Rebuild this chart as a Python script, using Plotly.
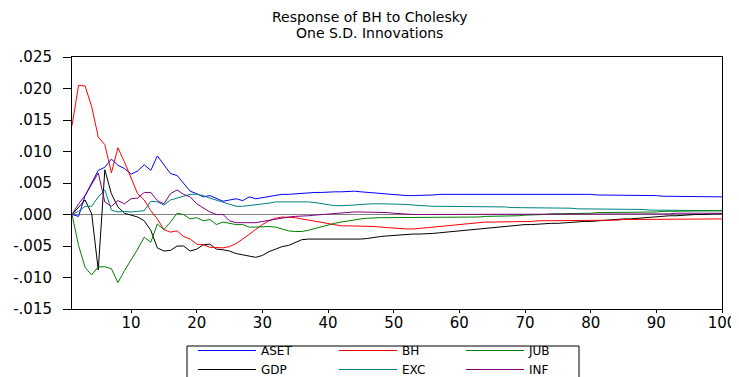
import plotly.graph_objects as go

periods = list(range(1, 101))

aset = [0.0000, -0.0003, 0.0030, 0.0049, 0.0070, 0.0075, 0.0088, 0.0078, 0.0073, 0.0064,
        0.0069, 0.0079, 0.0070, 0.0093, 0.0078, 0.0065, 0.0062, 0.0049, 0.0037, 0.0033,
        0.0028, 0.0030, 0.0026, 0.0021, 0.0023, 0.0025, 0.0022, 0.0028, 0.0025, 0.0027,
        0.0028, 0.0030, 0.0032, 0.0032, 0.0033, 0.0034, 0.0034, 0.0035, 0.0035, 0.0036,
        0.0036, 0.0036, 0.0037, 0.0037, 0.0036, 0.0035, 0.0034, 0.0033, 0.0032, 0.0031,
        0.0031, 0.0030, 0.0030, 0.0030, 0.0031, 0.0031, 0.0032, 0.0032, 0.0032, 0.0033,
        0.0033, 0.0033, 0.0033, 0.0033, 0.0033, 0.0033, 0.0033, 0.0033, 0.0033, 0.0033,
        0.0033, 0.0033, 0.0033, 0.0033, 0.0033, 0.0032, 0.0032, 0.0032, 0.0032, 0.0032,
        0.0031, 0.0031, 0.0031, 0.0031, 0.0031, 0.0030, 0.0030, 0.0030, 0.0030, 0.0030,
        0.0029, 0.0029, 0.0029, 0.0029, 0.0029, 0.0028, 0.0028, 0.0028, 0.0028, 0.0028]

bh = [0.0141, 0.0205, 0.0204, 0.0171, 0.0123, 0.0111, 0.0066, 0.0106, 0.0083, 0.0059,
      0.0033, 0.0023, 0.0006, -0.0007, -0.0024, -0.0028, -0.0026, -0.0035, -0.0039, -0.0047,
      -0.0048, -0.0052, -0.0053, -0.0053, -0.0051, -0.0046, -0.0039, -0.0031, -0.0023, -0.0016,
      -0.0010, -0.0006, -0.0004, -0.0004, -0.0005, -0.0007, -0.0009, -0.0011, -0.0013, -0.0015,
      -0.0017, -0.0018, -0.0018, -0.0018, -0.0018, -0.0018, -0.0019, -0.0020, -0.0021, -0.0022,
      -0.0023, -0.0023, -0.0023, -0.0022, -0.0021, -0.0020, -0.0019, -0.0018, -0.0016, -0.0015,
      -0.0014, -0.0013, -0.0012, -0.0012, -0.0012, -0.0012, -0.0011, -0.0011, -0.0011, -0.0011,
      -0.0011, -0.0010, -0.0010, -0.0010, -0.0010, -0.0010, -0.0010, -0.0009, -0.0009, -0.0009,
      -0.0009, -0.0009, -0.0009, -0.0009, -0.0008, -0.0008, -0.0008, -0.0008, -0.0008, -0.0008,
      -0.0008, -0.0008, -0.0008, -0.0007, -0.0007, -0.0007, -0.0007, -0.0007, -0.0007, -0.0007]

jub = [0.0000, -0.0049, -0.0084, -0.0096, -0.0083, -0.0083, -0.0086, -0.0108, -0.0089, -0.0073,
       -0.0055, -0.0036, -0.0044, -0.0015, -0.0024, -0.0012, 0.0002, 0.0000, -0.0007, -0.0005,
       -0.0010, -0.0008, -0.0016, -0.0012, -0.0014, -0.0016, -0.0016, -0.0020, -0.0020, -0.0019,
       -0.0019, -0.0020, -0.0023, -0.0026, -0.0027, -0.0027, -0.0025, -0.0022, -0.0020, -0.0017,
       -0.0014, -0.0012, -0.0010, -0.0008, -0.0007, -0.0006, -0.0005, -0.0005, -0.0005, -0.0005,
       -0.0005, -0.0005, -0.0005, -0.0005, -0.0005, -0.0004, -0.0004, -0.0004, -0.0004, -0.0004,
       -0.0004, -0.0004, -0.0004, -0.0003, -0.0003, -0.0003, -0.0002, -0.0002, -0.0002, -0.0001,
       -0.0001, 0.0000, 0.0000, 0.0001, 0.0001, 0.0001, 0.0002, 0.0002, 0.0002, 0.0002,
       0.0003, 0.0003, 0.0003, 0.0003, 0.0003, 0.0004, 0.0004, 0.0004, 0.0004, 0.0004,
       0.0005, 0.0005, 0.0005, 0.0005, 0.0005, 0.0005, 0.0006, 0.0006, 0.0006, 0.0006]

gdp = [0.0000, 0.0012, 0.0023, 0.0001, -0.0088, 0.0071, 0.0033, 0.0012, 0.0002, -0.0001,
       -0.0004, -0.0010, -0.0025, -0.0053, -0.0058, -0.0057, -0.0050, -0.0050, -0.0058, -0.0055,
       -0.0048, -0.0047, -0.0055, -0.0056, -0.0058, -0.0062, -0.0064, -0.0066, -0.0068, -0.0065,
       -0.0059, -0.0055, -0.0051, -0.0049, -0.0045, -0.0040, -0.0039, -0.0039, -0.0039, -0.0039,
       -0.0040, -0.0040, -0.0040, -0.0040, -0.0039, -0.0038, -0.0036, -0.0035, -0.0034, -0.0033,
       -0.0032, -0.0031, -0.0031, -0.0031, -0.0031, -0.0030, -0.0029, -0.0028, -0.0027, -0.0026,
       -0.0024, -0.0023, -0.0022, -0.0021, -0.0020, -0.0019, -0.0018, -0.0018, -0.0017, -0.0016,
       -0.0016, -0.0015, -0.0015, -0.0014, -0.0014, -0.0013, -0.0012, -0.0012, -0.0011, -0.0011,
       -0.0010, -0.0009, -0.0009, -0.0008, -0.0007, -0.0007, -0.0006, -0.0005, -0.0005, -0.0004,
       -0.0003, -0.0002, -0.0002, -0.0001, -0.0001, 0.0000, 0.0000, 0.0001, 0.0001, 0.0001]

exc = [0.0000, 0.0005, 0.0013, 0.0013, 0.0028, 0.0039, 0.0007, 0.0004, 0.0005, 0.0004,
       0.0005, 0.0006, 0.0021, 0.0020, 0.0015, 0.0023, 0.0026, 0.0029, 0.0032, 0.0032,
       0.0030, 0.0026, 0.0023, 0.0020, 0.0017, 0.0013, 0.0013, 0.0014, 0.0015, 0.0017,
       0.0018, 0.0020, 0.0020, 0.0021, 0.0021, 0.0021, 0.0020, 0.0019, 0.0017, 0.0015,
       0.0014, 0.0014, 0.0014, 0.0015, 0.0016, 0.0017, 0.0017, 0.0017, 0.0017, 0.0017,
       0.0017, 0.0016, 0.0015, 0.0014, 0.0013, 0.0013, 0.0013, 0.0013, 0.0013, 0.0013,
       0.0013, 0.0013, 0.0013, 0.0012, 0.0012, 0.0012, 0.0012, 0.0011, 0.0011, 0.0011,
       0.0011, 0.0011, 0.0010, 0.0010, 0.0010, 0.0010, 0.0010, 0.0009, 0.0009, 0.0009,
       0.0009, 0.0009, 0.0009, 0.0008, 0.0008, 0.0008, 0.0008, 0.0008, 0.0007, 0.0007,
       0.0007, 0.0007, 0.0007, 0.0007, 0.0006, 0.0006, 0.0006, 0.0006, 0.0006, 0.0006]

inf = [0.0000, 0.0017, 0.0030, 0.0048, 0.0066, 0.0020, 0.0013, 0.0022, 0.0017, 0.0025,
       0.0026, 0.0035, 0.0035, 0.0022, 0.0017, 0.0033, 0.0039, 0.0032, 0.0028, 0.0017,
       0.0010, 0.0004, 0.0000, 0.0000, -0.0010, -0.0013, -0.0013, -0.0013, -0.0013, -0.0011,
       -0.0009, -0.0007, -0.0005, -0.0004, -0.0003, -0.0003, -0.0002, -0.0001, 0.0000, 0.0001,
       0.0002, 0.0003, 0.0003, 0.0004, 0.0004, 0.0004, 0.0004, 0.0003, 0.0003, 0.0002,
       0.0001, 0.0000, 0.0000, 0.0000, 0.0000, 0.0000, 0.0000, 0.0000, 0.0000, 0.0000,
       0.0000, 0.0000, 0.0000, 0.0000, 0.0000, 0.0000, 0.0000, 0.0000, 0.0000, 0.0000,
       0.0000, 0.0000, 0.0000, 0.0000, 0.0000, 0.0000, 0.0000, 0.0000, 0.0001, 0.0001,
       0.0001, 0.0001, 0.0001, 0.0001, 0.0001, 0.0001, 0.0001, 0.0001, 0.0001, 0.0001,
       0.0001, 0.0001, 0.0002, 0.0002, 0.0002, 0.0002, 0.0002, 0.0002, 0.0002, 0.0002]

series_names = ["ASET", "GDP", "BH", "EXC", "JUB", "INF"]
series_values = [aset, gdp, bh, exc, jub, inf]
series_colors = ["#0000FF", "#000000", "#FF0000", "#008080", "#008000", "#800080"]
legend_cols = ["legend", "legend", "legend2", "legend2", "legend3", "legend3"]

x_tickvals = [10, 20, 30, 40, 50, 60, 70, 80, 90, 100]
y_tickvals = [-0.015, -0.010, -0.005, 0.000, 0.005, 0.010, 0.015, 0.020, 0.025]
y_ticktext = ["-.015", "-.010", "-.005", ".000", ".005", ".010", ".015", ".020", ".025"]
title_lines = ["Response of BH to Cholesky", "One S.D. Innovations"]

FONT = "DejaVu Sans"

# The page body has an 8px margin; the figure is sized so that it ends at the window edge.
OFF = 8
W, H = 739 - OFF, 377 - OFF
ML, MR, MT, MB = 72 - OFF, 17, 57 - OFF, 377 - 309
plot_h = H - MT - MB
plot_w = W - ML - MR


def px_x(page_x):
    return (page_x - 72) / plot_w


def px_y(page_y):
    return (309 - page_y) / plot_h


fig = go.Figure()
for name, vals, col, lg in zip(series_names, series_values, series_colors, legend_cols):
    fig.add_trace(go.Scatter(x=periods, y=vals, mode="lines", name=name,
                             legend=lg, line=dict(color=col, width=1)))

title_centers = [17, 33]  # page y of each title line
annotations = []
for line, yc in zip(title_lines, title_centers):
    annotations.append(dict(text=line, xref="paper", yref="paper",
                            x=px_x(369.5), y=px_y(yc),
                            xanchor="center", yanchor="middle", showarrow=False,
                            font=dict(family=FONT, size=14, color="black")))

legend_common = dict(orientation="v", xanchor="left", yanchor="top",
                     bgcolor="rgba(0,0,0,0)", borderwidth=0, itemwidth=58,
                     font=dict(family=FONT, size=12, color="black"))
legend_col_x = [193, 334, 461]  # page x of each legend column
legend_top = 336

fig.update_layout(
    width=W, height=H,
    margin=dict(l=ML, r=MR, t=MT, b=MB, autoexpand=False),
    paper_bgcolor="white", plot_bgcolor="white",
    font=dict(family=FONT, color="black", size=13),
    annotations=annotations,
    showlegend=True,
    legend=dict(x=px_x(legend_col_x[0]), y=px_y(legend_top), **legend_common),
    legend2=dict(x=px_x(legend_col_x[1]), y=px_y(legend_top), **legend_common),
    legend3=dict(x=px_x(legend_col_x[2]), y=px_y(legend_top), **legend_common),
    shapes=[dict(type="rect", xref="paper", yref="paper",
                 x0=px_x(187), x1=px_x(579), y0=px_y(346), y1=px_y(390),
                 line=dict(color="black", width=1), fillcolor="rgba(0,0,0,0)")],
    xaxis=dict(range=[1, 100], tickvals=x_tickvals, ticks="outside", ticklen=3,
               tickcolor="black", showline=True, linecolor="black", linewidth=1,
               mirror=True, showgrid=False, zeroline=False, ticklabelstandoff=-3,
               tickfont=dict(family=FONT, size=15)),
    yaxis=dict(range=[-0.015, 0.025], tickvals=y_tickvals, ticktext=y_ticktext,
               ticks="outside", ticklen=8, tickcolor="black", ticklabelstandoff=8,
               showline=True, linecolor="black", linewidth=1, mirror=True,
               showgrid=False, zeroline=True, zerolinecolor="#808080", zerolinewidth=1,
               tickfont=dict(family=FONT, size=15)),
)

fig.write_html("out.html")
